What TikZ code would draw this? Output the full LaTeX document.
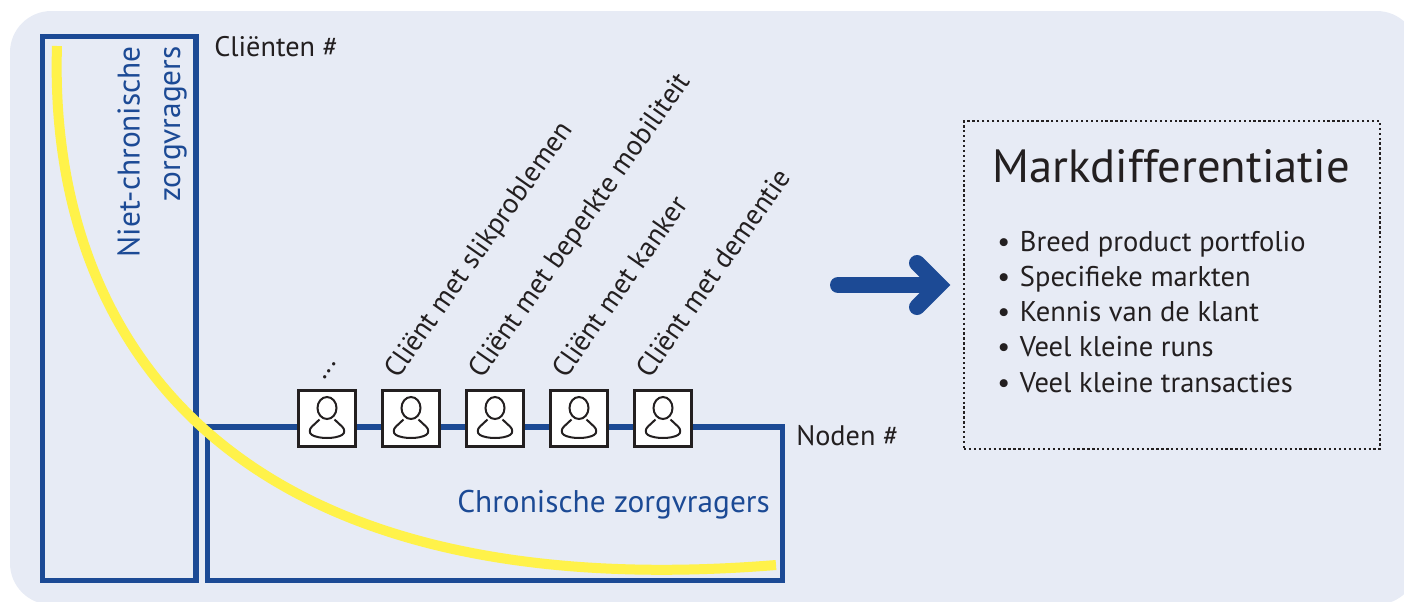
\documentclass[tikz,border=0pt]{standalone}
\usepackage{fontspec}
\setmainfont{PT Sans}
\definecolor{panelBlue}{HTML}{E7EBF5}
\definecolor{lineBlue}{HTML}{1C4A95}
\definecolor{curveYellow}{HTML}{FFF24A}
\definecolor{inkBlack}{HTML}{231F20}
\tikzset{personIcon/.pic={
	\draw[inkBlack, line width = 1.5pt] (0,-10.5) ellipse [x radius = 9.5, y radius = 11];
	\draw[inkBlack, line width = 1.5pt, line join = round] (-7.5,1) -- (-15,8) .. controls (-18,10.5) and (-18,15) .. (-15,16.5) .. controls (-8,20.5) and (8,20.5) .. (15,16.5) .. controls (18,15) and (18,10.5) .. (15,8) -- (7.5,1);
}}

\begin{document}
\begin{tikzpicture}[x = 0.75pt, y = -0.75pt]
	\tikzstyle{axisStyle} = [draw = lineBlue, line width = 3.9pt]
	\tikzstyle{clientStyle} = [shape = rectangle, minimum size = 42.5pt, inner sep = 0pt, draw = inkBlack, line width = 2.2pt, fill = white]
	\tikzstyle{labelStyle} = [anchor = base west, inner sep = 0pt, text = inkBlack, font = \fontsize{21.2}{25}\selectfont]
	\tikzstyle{rotatedStyle} = [labelStyle, rotate = 55]
	\tikzstyle{blueStyle} = [inner sep = 0pt, text = lineBlue, font = \fontsize{23.5}{30.5}\selectfont]
	\tikzstyle{itemStyle} = [labelStyle, font = \fontsize{21.4}{25}\selectfont]
	\useasboundingbox (0,0) rectangle (1404,601);
	\fill[panelBlue, rounded corners = 31pt] (10,11) rectangle (1418,604.6);
	\draw[axisStyle] (42.5,36.5) rectangle (196,580.5);
	\draw[axisStyle] (207.5,427) rectangle (782.5,580.5);
	\draw[curveYellow, line width = 7.5pt] (57,46) .. controls (48,330) and (218,610) .. (776,565);
	\node[clientStyle] (c1) at (327,418.5) {};
	\node[clientStyle] (c2) at (411,418.5) {};
	\node[clientStyle] (c3) at (495,418.5) {};
	\node[clientStyle] (c4) at (579,418.5) {};
	\node[clientStyle] (c5) at (663,418.5) {};
	\pic at (c1) {personIcon};
	\pic at (c2) {personIcon};
	\pic at (c3) {personIcon};
	\pic at (c4) {personIcon};
	\pic at (c5) {personIcon};
	\node[rotatedStyle] (l1) at (324,381) {...};
	\node[rotatedStyle] (l2) at (398,380) {Cliënt met slikproblemen};
	\node[rotatedStyle] (l3) at (482,380) {Cliënt met beperkte mobiliteit};
	\node[rotatedStyle] (l4) at (566,380) {Cliënt met kanker};
	\node[rotatedStyle] (l5) at (650,380) {Cliënt met dementie};
	\node[labelStyle] (clients) at (214,56) {Cliënten \#};
	\node[labelStyle] (noden) at (796,445) {Noden \#};
	\node[blueStyle, anchor = north east, rotate = 90, align = right] (nonchronic) at (117,46) {Niet-chronische\\zorgvragers};
	\node[blueStyle, anchor = base east] (chronic) at (770,512) {Chronische zorgvragers};
	\draw[lineBlue, line width = 12pt, line cap = round] (838,285) -- (935,285);
	\draw[lineBlue, line width = 12pt, line cap = round, miter limit = 10] (917,263) -- (939,285) -- (917,307);
	\node[draw = inkBlack, dotted, line width = 1.7pt, inner sep = 0pt, minimum width = 312pt, minimum height = 246pt] (box) at (1172,285) {};
	\node[labelStyle, font = \fontsize{35}{42}\selectfont] (title) at (992,182) {Markdifferentiatie};
	\node[itemStyle] (i1) at (997,251) {\makebox[17pt][l]{\textbullet}Breed product portfolio};
	\node[itemStyle] (i2) at (997,286) {\makebox[17pt][l]{\textbullet}Specifieke markten};
	\node[itemStyle] (i3) at (997,321) {\makebox[17pt][l]{\textbullet}Kennis van de klant};
	\node[itemStyle] (i4) at (997,356) {\makebox[17pt][l]{\textbullet}Veel kleine runs};
	\node[itemStyle] (i5) at (997,392) {\makebox[17pt][l]{\textbullet}Veel kleine transacties};
\end{tikzpicture}
\end{document}
